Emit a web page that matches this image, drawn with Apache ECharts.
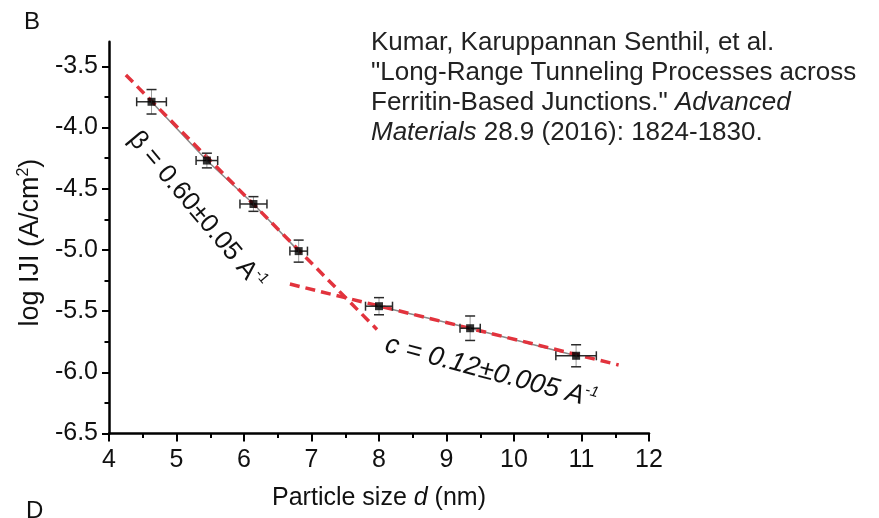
<!DOCTYPE html>
<html>
<head>
<meta charset="utf-8">
<title>log J vs particle size</title>
<script src="https://cdn.jsdelivr.net/npm/echarts@6/dist/echarts.min.js"></script>
<style>
  html, body { margin: 0; padding: 0; background: #fff; }
  #chart { width: 879px; height: 518px; }
</style>
</head>
<body>
<div id="chart"></div>
<script>
// Measured junctions: particle size d (nm) and log |J| (A/cm^2) with error bars
const particleSize = [4.63, 5.45, 6.14, 6.81, 8.00, 9.35, 10.92];
const logJ        = [-3.79, -4.27, -4.625, -5.01, -5.46, -5.64, -5.865];
const sizeErr     = [0.22, 0.16, 0.20, 0.13, 0.20, 0.15, 0.30];
const logJErr     = [0.10, 0.06, 0.06, 0.09, 0.07, 0.10, 0.09];

// Points belonging to each transport regime (indices into the arrays above)
const shortRangeIdx = [0, 1, 2, 3];
const longRangeIdx  = [4, 5, 6];

// Linear fits (end points in data units)
const fitShortRange = [[4.25, -3.571], [7.97, -5.65]];
const fitLongRange  = [[6.68, -5.279], [11.55, -5.94]];

// Axis ticks
const xTicks      = [4, 5, 6, 7, 8, 9, 10, 11, 12];
const yTicks      = [-6.5, -6.0, -5.5, -5.0, -4.5, -4.0, -3.5];
const yMinorTicks = [-6.25, -5.75, -5.25, -4.75, -4.25, -3.75];

const FONT = 'Liberation Sans, Arial, Helvetica, sans-serif';
const INK = '#111';

const points = particleSize.map((d, i) => [d, logJ[i], sizeErr[i], logJErr[i]]);
const pick = idx => idx.map(i => [particleSize[i], logJ[i]]);

const chart = echarts.init(document.getElementById('chart'), null, { renderer: 'canvas' });

const axisLineStyle = { color: '#000', width: 2.5 };
const tickLineStyle = { color: '#000', width: 2 };

chart.setOption({
  animation: false,
  backgroundColor: '#fff',
  grid: { left: 109, right: 230, top: 41.8, bottom: 84.5, containLabel: false },
  xAxis: {
    type: 'value',
    min: xTicks[0],
    max: xTicks[xTicks.length - 1],
    interval: 1,
    name: '{a|Particle size }{i|d}{a| (nm)}',
    nameLocation: 'middle',
    nameGap: 52,
    nameTextStyle: {
      rich: {
        a: { fontFamily: FONT, fontSize: 25, color: INK },
        i: { fontFamily: FONT, fontSize: 25, color: INK, fontStyle: 'italic' }
      }
    },
    axisLine: { show: true, onZero: false, lineStyle: axisLineStyle },
    axisTick: { show: true, inside: false, length: 8, lineStyle: tickLineStyle },
    minorTick: { show: true, splitNumber: 2, length: 4.5, lineStyle: tickLineStyle },
    splitLine: { show: false },
    minorSplitLine: { show: false },
    axisLabel: { fontFamily: FONT, fontSize: 25, color: INK, margin: 14, showMinLabel: true, showMaxLabel: true }
  },
  yAxis: [
    {
      type: 'value',
      min: yTicks[0],
      max: -3.3,
      position: 'left',
      name: '{a|log IJI (A/cm}{s|2}{a|)}',
      nameLocation: 'middle',
      nameGap: 60,
      nameTextStyle: {
        padding: [0, 10, 0, 0],
        rich: {
          a: { fontFamily: FONT, fontSize: 27, color: INK, lineHeight: 30 },
          s: { fontFamily: FONT, fontSize: 16, color: INK, verticalAlign: 'top', lineHeight: 30 }
        }
      },
      axisLine: { show: true, onZero: false, lineStyle: axisLineStyle },
      axisTick: { show: true, inside: false, length: 7, lineStyle: tickLineStyle, customValues: yTicks },
      axisLabel: {
        fontFamily: FONT, fontSize: 25, color: INK, margin: 11,
        customValues: yTicks,
        formatter: v => Number(v).toFixed(1)
      },
      splitLine: { show: false }
    },
    {
      // carries only the minor ticks of the log J axis
      type: 'value',
      min: yTicks[0],
      max: -3.3,
      position: 'left',
      offset: 0,
      axisLine: { show: false, onZero: false },
      axisTick: { show: true, inside: false, length: 4.5, lineStyle: tickLineStyle, customValues: yMinorTicks },
      axisLabel: { show: false },
      splitLine: { show: false }
    }
  ],
  series: [
    {
      name: 'guide short',
      type: 'line',
      data: pick(shortRangeIdx),
      symbol: 'none',
      lineStyle: { color: '#8a8a8a', width: 1.5 },
      z: 2
    },
    {
      name: 'guide long',
      type: 'line',
      data: pick(longRangeIdx),
      symbol: 'none',
      lineStyle: { color: '#8a8a8a', width: 1.5 },
      z: 2
    },
    {
      name: 'fit short range',
      type: 'line',
      data: fitShortRange,
      symbol: 'none',
      lineStyle: { color: '#e2333d', width: 3.5, type: [10, 6] },
      z: 3
    },
    {
      name: 'fit long range',
      type: 'line',
      data: fitLongRange,
      symbol: 'none',
      lineStyle: { color: '#e2333d', width: 3.5, type: [10, 6] },
      z: 3
    },
    {
      name: 'error bars',
      type: 'custom',
      data: points,
      z: 4,
      renderItem(params, api) {
        const x = api.value(0), y = api.value(1), ex = api.value(2), ey = api.value(3);
        const c = api.coord([x, y]);
        const l = api.coord([x - ex, y]);
        const r = api.coord([x + ex, y]);
        const t = api.coord([x, y + ey]);
        const b = api.coord([x, y - ey]);
        const capH = 4.5, capV = 5;
        const dark = { stroke: '#2a2a2a', lineWidth: 1.5 };
        const light = { stroke: '#9a9a9a', lineWidth: 1 };
        return {
          type: 'group',
          children: [
            { type: 'line', shape: { x1: l[0], y1: c[1], x2: r[0], y2: c[1] }, style: dark },
            { type: 'line', shape: { x1: l[0], y1: c[1] - capH, x2: l[0], y2: c[1] + capH }, style: dark },
            { type: 'line', shape: { x1: r[0], y1: c[1] - capH, x2: r[0], y2: c[1] + capH }, style: dark },
            { type: 'line', shape: { x1: c[0], y1: t[1], x2: c[0], y2: b[1] }, style: light },
            { type: 'line', shape: { x1: c[0] - capV, y1: t[1], x2: c[0] + capV, y2: t[1] }, style: dark },
            { type: 'line', shape: { x1: c[0] - capV, y1: b[1], x2: c[0] + capV, y2: b[1] }, style: dark }
          ]
        };
      }
    },
    {
      name: 'log J',
      type: 'scatter',
      data: points.map(p => [p[0], p[1]]),
      symbol: 'rect',
      symbolSize: 8,
      itemStyle: { color: '#000' },
      z: 5
    }
  ]
});

// Fit annotations, anchored in data coordinates and rotated along each fit line
const annotations = [
  { at: [5.30, -4.68], angle: -50, italic: false, size: 26, text: 'β = 0.60±0.05 ' },
  { at: [9.66, -6.00], angle: -15, italic: true,  size: 27, text: 'c = 0.12±0.005 ' }
];

const annoGraphics = annotations.map(a => {
  const p = chart.convertToPixel({ gridIndex: 0 }, a.at);
  const fs = a.italic ? 'italic' : 'normal';
  return {
    type: 'text',
    x: p[0],
    y: p[1],
    rotation: a.angle * Math.PI / 180,
    z: 10,
    style: {
      text: '{m|' + a.text + 'A}{s|-1}',
      align: 'center',
      verticalAlign: 'middle',
      rich: {
        m: { fontFamily: FONT, fontSize: a.size, fontStyle: fs, fill: INK, lineHeight: 30 },
        s: { fontFamily: FONT, fontSize: 15, fontStyle: fs, fill: INK, verticalAlign: 'top', lineHeight: 30 }
      }
    }
  };
});

const citation = [
  '{n|Kumar, Karuppannan Senthil, et al.}',
  '{n|"Long-Range Tunneling Processes across}',
  '{n|Ferritin-Based Junctions." }{i|Advanced}',
  '{i|Materials}{n| 28.9 (2016): 1824-1830.}'
];
const citeRich = {
  n: { fontFamily: FONT, fontSize: 26, fill: '#222' },
  i: { fontFamily: FONT, fontSize: 26, fill: '#222', fontStyle: 'italic' }
};
const PANEL_FONT = '24px "Liberation Sans", Arial, sans-serif';

chart.setOption({
  graphic: [
    ...annoGraphics,
    { type: 'text', x: 24, y: 22, style: { text: 'B', font: PANEL_FONT, fill: INK, verticalAlign: 'middle' } },
    { type: 'text', x: 26, y: 511, style: { text: 'D', font: PANEL_FONT, fill: INK, verticalAlign: 'middle' } },
    ...citation.map((line, k) => ({
      type: 'text',
      x: 371,
      y: 43 + 30 * k,
      style: { text: line, rich: citeRich, verticalAlign: 'middle', align: 'left' }
    }))
  ]
});
</script>
</body>
</html>
